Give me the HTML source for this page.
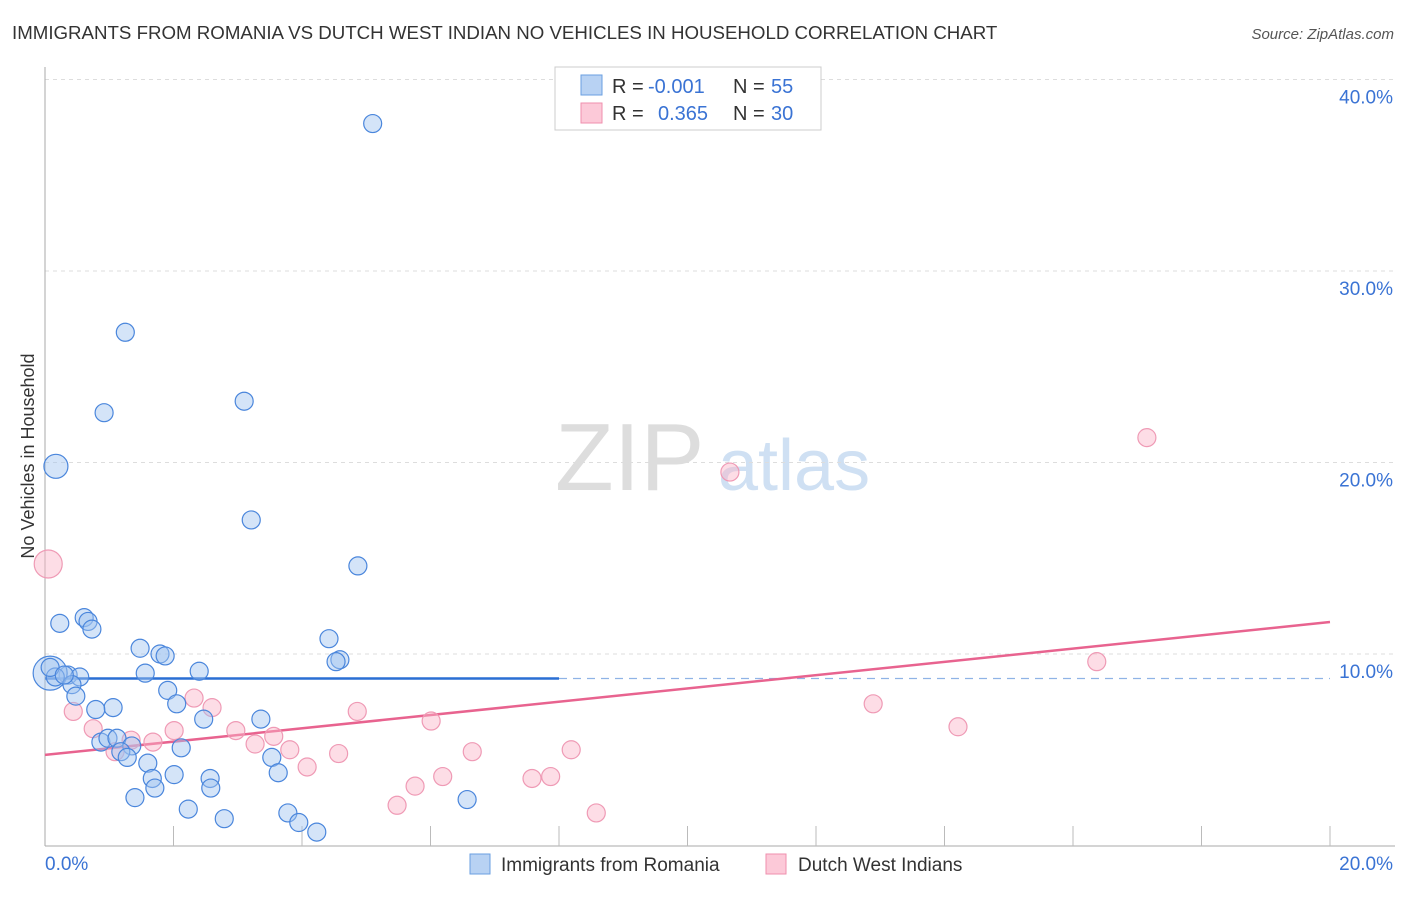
<!DOCTYPE html>
<html><head><meta charset="utf-8"><style>
body{margin:0;background:#fff;font-family:"Liberation Sans",sans-serif}
svg text{font-family:"Liberation Sans",sans-serif}
</style></head><body>
<svg id="chart" width="1406" height="892" xmlns="http://www.w3.org/2000/svg">
<text x="12" y="39" font-size="18.7" fill="#333">IMMIGRANTS FROM ROMANIA VS DUTCH WEST INDIAN NO VEHICLES IN HOUSEHOLD CORRELATION CHART</text>
<text x="1394" y="39" font-size="15" fill="#555" text-anchor="end" font-style="italic">Source: ZipAtlas.com</text>
<text transform="translate(34,456) rotate(-90)" font-size="18" fill="#333" text-anchor="middle">No Vehicles in Household</text>
<g><text x="555" y="490" font-size="96" fill="#ddd" font-family="Liberation Serif">ZIP</text><text x="718" y="490" font-size="72" fill="#cfe0f3">atlas</text></g>
<g id="grid"></g><g id="ticks"></g><g id="lines"></g><g id="pts"></g>
<g>
<rect x="555" y="67" width="266" height="63" fill="#fff" stroke="#ccc"/>
<rect x="581" y="75" width="21" height="20" fill="#b8d2f3" stroke="#6a9fe0"/>
<rect x="581" y="103" width="21" height="20" fill="#fcc9d8" stroke="#ef8fae"/>
<text x="612" y="93" font-size="20" fill="#333">R = </text><text x="648" y="93" font-size="20" fill="#3a73d4">-0.001</text>
<text x="733" y="93" font-size="20" fill="#333">N = </text><text x="771" y="93" font-size="20" fill="#3a73d4">55</text>
<text x="612" y="120" font-size="20" fill="#333">R = </text><text x="658" y="120" font-size="20" fill="#3a73d4">0.365</text>
<text x="733" y="120" font-size="20" fill="#333">N = </text><text x="771" y="120" font-size="20" fill="#3a73d4">30</text>
</g>
<g>
<rect x="470" y="854" width="20" height="20" fill="#b8d2f3" stroke="#6a9fe0"/>
<text x="501" y="871" font-size="19" fill="#333">Immigrants from Romania</text>
<rect x="766" y="854" width="20" height="20" fill="#fcc9d8" stroke="#ef8fae"/>
<text x="798" y="871" font-size="19" fill="#333">Dutch West Indians</text>
</g>
</svg>
<script>
const yTicks=[10,20,30,40];
const yTickLabels=["10.0%","20.0%","30.0%","40.0%"];
const xTickLabels=["0.0%","20.0%"];
const blueX=[5.1,1.25,0.92,3.1,0.17,3.21,4.87,0.61,0.23,0.67,0.73,4.42,1.48,1.79,1.87,4.59,4.53,1.56,2.4,0.36,0.08,0.54,0.16,0.42,0.48,1.91,2.05,1.06,0.79,2.47,3.36,0.87,0.98,1.12,1.35,1.18,1.28,2.12,3.53,1.6,3.63,2.01,1.67,2.57,1.71,2.58,1.4,6.57,2.23,3.78,2.79,3.95,4.23,0.08,0.3];
const blueY=[37.7,26.8,22.6,23.2,19.8,17.0,14.6,11.9,11.6,11.7,11.3,10.8,10.3,10.0,9.9,9.7,9.6,9.0,9.1,8.9,9.0,8.8,8.8,8.4,7.8,8.1,7.4,7.2,7.1,6.6,6.6,5.4,5.6,5.6,5.2,4.9,4.6,5.1,4.6,4.3,3.8,3.7,3.5,3.5,3.0,3.0,2.5,2.4,1.9,1.7,1.4,1.2,0.7,9.3,8.9];
const blueR=[9,9,9,9,12,9,9,9,9,9,9,9,9,9,9,9,9,9,9,9,17,9,9,9,9,9,9,9,9,9,9,9,9,9,9,9,9,9,9,9,9,9,9,9,9,9,9,9,9,9,9,9,9,9,9];
const pinkX=[0.05,17.15,10.66,16.37,2.32,2.6,0.44,12.89,4.86,6.01,14.21,0.75,2.97,2.01,3.56,1.68,1.34,3.27,3.81,1.09,8.19,6.65,4.57,4.08,6.19,5.76,7.58,7.87,5.48,8.58];
const pinkY=[14.7,21.3,19.5,9.6,7.7,7.2,7.0,7.4,7.0,6.5,6.2,6.1,6.0,6.0,5.7,5.4,5.5,5.3,5.0,4.9,5.0,4.9,4.8,4.1,3.6,3.1,3.5,3.6,2.1,1.7];
const pinkR=[14,9,9,9,9,9,9,9,9,9,9,9,9,9,9,9,9,9,9,9,9,9,9,9,9,9,9,9,9,9];
const blueLine=[8.72,8.72];
const pinkLine=[4.73,11.67];
const X0=45,X1=1330,Y0=845.5,PX=19.15;
const sx=v=>X0+(v/20)*(X1-X0), sy=v=>Y0-v*PX;
const NS="http://www.w3.org/2000/svg";
function mk(t,a,p){const e=document.createElementNS(NS,t);for(const k in a)e.setAttribute(k,a[k]);p.appendChild(e);return e;}
const grid=document.getElementById('grid'),ticks=document.getElementById('ticks'),lines=document.getElementById('lines'),pts=document.getElementById('pts');
yTicks.forEach((v,i)=>{
 const l=mk('line',{x1:45,x2:1395,y1:sy(v),y2:sy(v),stroke:'#ddd','stroke-dasharray':'4,4'},grid);
 
 
 const t=mk('text',{x:1393,y:sy(v)+24,'font-size':19,fill:'#3a73d4','text-anchor':'end'},ticks);
 t.textContent=yTickLabels[i];
 
 
});
const ax=mk('line',{x1:45,x2:45,y1:67,y2:846,stroke:'#aaa'},grid);


const bx=mk('line',{x1:45,x2:1395,y1:846,y2:846,stroke:'#aaa'},grid);


for(let i=1;i<=10;i++){const tk=mk('line',{x1:sx(i*2),x2:sx(i*2),y1:826,y2:846,stroke:'#bbb'},grid);
 
 }
[0,20].forEach((v,i)=>{const t=mk('text',{x:i?1393:45,y:870,'font-size':19,fill:'#3a73d4','text-anchor':i?'end':'start'},ticks);
 t.textContent=xTickLabels[i];
 
 });
function addPts(X,Y,R,fill,stroke,name){X.forEach((x,i)=>{const c=mk('circle',{cx:sx(x),cy:sy(Y[i]),r:R[i],fill:fill,stroke:stroke,'stroke-width':1.2},pts);
 
 });}
addPts(pinkX,pinkY,pinkR,'rgba(250,180,200,0.45)','#ef9ab5','dutch-west-indian-point');
addPts(blueX,blueY,blueR,'rgba(160,196,240,0.45)','#4a86dc','romania-point');
const bl1=mk('line',{x1:sx(0),x2:sx(8),y1:sy(blueLine[0]),y2:sy(blueLine[0]+(blueLine[1]-blueLine[0])*0.4),stroke:'#2a6fd4','stroke-width':2.5},lines);


const bl2=mk('line',{x1:sx(8),x2:sx(20),y1:sy(blueLine[0]+(blueLine[1]-blueLine[0])*0.4),y2:sy(blueLine[1]),stroke:'#8fb3e6','stroke-width':1.3,'stroke-dasharray':'8,6'},lines);


const pl=mk('line',{x1:sx(0),x2:sx(20),y1:sy(pinkLine[0]),y2:sy(pinkLine[1]),stroke:'#e8638f','stroke-width':2.5},lines);


</script>
</body></html>
